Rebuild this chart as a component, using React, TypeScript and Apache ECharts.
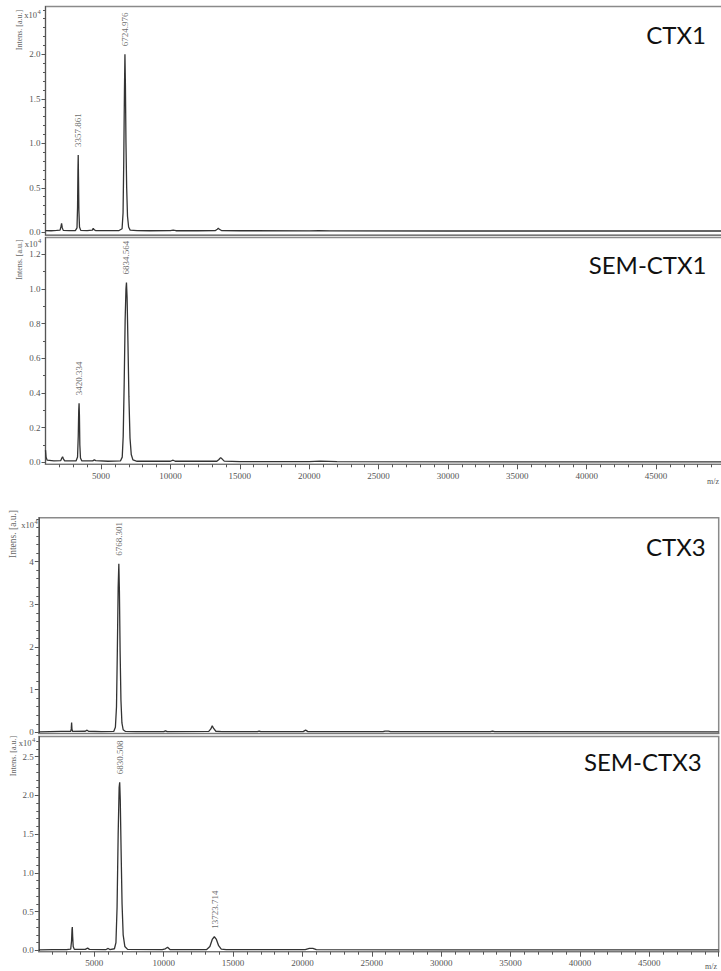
import React, { useEffect, useRef } from "react";
import * as echarts from "echarts";

// ---------- data (intensities in units of 10^4 a.u., x in m/z) ----------
const panelTitles = ["CTX1", "SEM-CTX1", "CTX3", "SEM-CTX3"];

const ctx1Spectrum: [number, number][] = [
  [1000, 0.02], [1400, 0.018], [1800, 0.022], [2050, 0.025], [2110, 0.06], [2160, 0.1], [2210, 0.05],
  [2280, 0.022], [2700, 0.02], [3150, 0.02], [3270, 0.05], [3310, 0.28], [3338, 0.7], [3358, 0.87],
  [3378, 0.62], [3405, 0.25], [3450, 0.06], [3540, 0.022], [4000, 0.02], [4380, 0.025], [4440, 0.045],
  [4500, 0.03], [4600, 0.02], [5400, 0.02], [6300, 0.02], [6520, 0.04], [6590, 0.22], [6640, 0.8],
  [6690, 1.6], [6725, 2.0], [6760, 1.65], [6800, 1.0], [6850, 0.5], [6910, 0.18], [6990, 0.06],
  [7100, 0.025], [7600, 0.02], [8500, 0.018], [10000, 0.02], [10200, 0.025], [10400, 0.018],
  [12000, 0.018], [13250, 0.02], [13380, 0.035], [13455, 0.045], [13530, 0.035], [13680, 0.02],
  [15000, 0.018], [20000, 0.016], [20700, 0.02], [21500, 0.016], [30000, 0.015], [40000, 0.015],
  [50000, 0.015],
];

const semCtx1Spectrum: [number, number][] = [
  [1000, 0.07], [1040, 0.03], [1120, 0.012], [1600, 0.008], [2100, 0.01], [2180, 0.025], [2230, 0.032],
  [2290, 0.02], [2380, 0.008], [3200, 0.008], [3310, 0.03], [3360, 0.15], [3395, 0.3], [3420, 0.34],
  [3445, 0.27], [3475, 0.1], [3520, 0.025], [3620, 0.008], [4400, 0.008], [4520, 0.014], [4620, 0.01],
  [5500, 0.006], [6400, 0.008], [6530, 0.03], [6600, 0.15], [6670, 0.45], [6740, 0.82], [6800, 1.0],
  [6835, 1.037], [6880, 0.95], [6940, 0.7], [7010, 0.38], [7090, 0.14], [7180, 0.045], [7300, 0.014],
  [7600, 0.006], [10000, 0.006], [10200, 0.012], [10350, 0.006], [13350, 0.006], [13500, 0.016],
  [13620, 0.027], [13720, 0.02], [13880, 0.007], [15000, 0.004], [20000, 0.004], [20800, 0.007],
  [22000, 0.004], [35000, 0.003], [50000, 0.003],
];

const ctx3Spectrum: [number, number][] = [
  [1000, 0.01], [1800, 0.015], [2600, 0.02], [3300, 0.02], [3340, 0.08], [3365, 0.23], [3390, 0.07],
  [3440, 0.02], [4350, 0.025], [4480, 0.05], [4580, 0.025], [5500, 0.015], [6400, 0.02], [6520, 0.12],
  [6600, 0.6], [6660, 1.9], [6720, 3.4], [6768, 3.95], [6810, 3.3], [6860, 1.9], [6920, 0.75],
  [6990, 0.22], [7080, 0.06], [7250, 0.02], [8000, 0.015], [10000, 0.015], [10130, 0.035],
  [10260, 0.015], [13250, 0.02], [13400, 0.08], [13500, 0.155], [13600, 0.09], [13760, 0.025],
  [14200, 0.015], [16750, 0.015], [16880, 0.03], [17000, 0.015], [20050, 0.015], [20230, 0.05],
  [20400, 0.015], [25800, 0.015], [25950, 0.03], [26200, 0.03], [26350, 0.015], [33550, 0.015],
  [33700, 0.03], [33850, 0.015], [50000, 0.012],
];

const semCtx3Spectrum: [number, number][] = [
  [1000, 0.005], [2000, 0.008], [3000, 0.01], [3300, 0.015], [3360, 0.12], [3395, 0.27], [3415, 0.3],
  [3440, 0.18], [3480, 0.05], [3560, 0.012], [4350, 0.012], [4520, 0.028], [4650, 0.012], [5850, 0.01],
  [6000, 0.024], [6120, 0.01], [6450, 0.02], [6560, 0.1], [6640, 0.55], [6720, 1.5], [6790, 2.1],
  [6830, 2.17], [6870, 1.95], [6930, 1.3], [7000, 0.6], [7080, 0.2], [7200, 0.05], [7400, 0.012],
  [9900, 0.008], [10120, 0.02], [10280, 0.04], [10450, 0.01], [13100, 0.01], [13330, 0.05],
  [13500, 0.14], [13650, 0.175], [13800, 0.14], [13960, 0.06], [14150, 0.015], [14500, 0.008],
  [20200, 0.008], [20500, 0.025], [20750, 0.025], [21000, 0.008], [30000, 0.005], [50000, 0.005],
];

const ctx1Peaks = [
  { label: "3357.861", mz: 3357.861, intensity: 0.87 },
  { label: "6724.976", mz: 6724.976, intensity: 2.0 },
];
const semCtx1Peaks = [
  { label: "3420.334", mz: 3420.334, intensity: 0.34 },
  { label: "6834.564", mz: 6834.564, intensity: 1.037 },
];
const ctx3Peaks = [{ label: "6768.301", mz: 6768.301, intensity: 3.95 }];
const semCtx3Peaks = [
  { label: "6830.508", mz: 6830.508, intensity: 2.17 },
  { label: "13723.714", mz: 13723.714, intensity: 0.175 },
];

const yMajor1 = [0, 0.5, 1.0, 1.5, 2.0];
const yMajor2 = [0, 0.2, 0.4, 0.6, 0.8, 1.0, 1.2];
const yMajor3 = [0, 1, 2, 3, 4];
const yMajor4 = [0, 0.5, 1.0, 1.5, 2.0, 2.5];
const xMajor = [5000, 10000, 15000, 20000, 25000, 30000, 35000, 40000, 45000];

// ---------- helpers ----------
function minorTicks(start: number, end: number, step: number, skip: number[]) {
  const out: number[] = [];
  const n = Math.round((end - start) / step);
  for (let i = 0; i <= n; i++) {
    const v = +(start + i * step).toFixed(4);
    if (!skip.some((s) => Math.abs(s - v) < 1e-6)) out.push(v);
  }
  return out;
}

const SERIF = "'Liberation Serif', 'Times New Roman', serif";
const AXIS_COLOR = "#555";
const LABEL_COLOR = "#555";

const panels = [
  { data: ctx1Spectrum, peaks: ctx1Peaks, major: yMajor1, minor: minorTicks(0, 2.5, 0.1, yMajor1), fmt: (v: number) => v.toFixed(1), showX: false,
    left: 45.5, top: 6.5, height: 228.5, min: -0.03, max: 2.537 },
  { data: semCtx1Spectrum, peaks: semCtx1Peaks, major: yMajor2, minor: minorTicks(0, 1.2, 0.1, yMajor2), fmt: (v: number) => v.toFixed(1), showX: true,
    left: 45.5, top: 237.5, height: 226.8, min: -0.0115, max: 1.296 },
  { data: ctx3Spectrum, peaks: ctx3Peaks, major: yMajor3, minor: minorTicks(0, 5.0, 0.2, yMajor3), fmt: (v: number) => String(Math.round(v)), showX: false,
    left: 38.8, top: 517.7, height: 215.8, min: -0.028, max: 5.03 },
  { data: semCtx3Spectrum, peaks: semCtx3Peaks, major: yMajor4, minor: minorTicks(0, 2.7, 0.1, yMajor4), fmt: (v: number) => v.toFixed(1), showX: true,
    left: 38.8, top: 736.5, height: 215.2, min: -0.018, max: 2.76 },
];

const xMinor = minorTicks(2000, 50000, 1000, xMajor);

function buildOption() {
  const grid: any[] = [];
  const xAxis: any[] = [];
  const yAxis: any[] = [];
  const series: any[] = [];

  panels.forEach((p, i) => {
    grid.push({
      left: p.left, top: p.top, width: 679.9, height: p.height,
      show: true, borderColor: "#8a8a8a", borderWidth: 1.5, backgroundColor: "transparent",
      containLabel: false, outerBoundsMode: "none",
    });
    xAxis.push({
      type: "value", gridIndex: i, min: 1000, max: 50000, position: "bottom",
      axisLine: { show: true, onZero: false, lineStyle: { color: "#777", width: 1.2 } },
      axisTick: { show: p.showX, customValues: [...xMajor, 50000], length: 5, lineStyle: { color: AXIS_COLOR } },
      axisLabel: { show: p.showX, customValues: xMajor, formatter: (v: number) => String(v), margin: 7,
        color: LABEL_COLOR, fontFamily: SERIF, fontSize: 9 },
      splitLine: { show: false },
    });
    xAxis.push({
      type: "value", gridIndex: i, min: 1000, max: 50000, position: "bottom", offset: 0,
      axisLine: { show: false, onZero: false },
      axisTick: { show: p.showX, customValues: xMinor, length: 3, lineStyle: { color: AXIS_COLOR } },
      axisLabel: { show: false },
      splitLine: { show: false },
    });
    yAxis.push({
      type: "value", gridIndex: i, min: p.min, max: p.max, position: "left",
      axisLine: { show: true, onZero: false, lineStyle: { color: AXIS_COLOR, width: 1 } },
      axisTick: { show: true, customValues: p.major, length: 4, lineStyle: { color: AXIS_COLOR } },
      axisLabel: { show: true, customValues: p.major, formatter: p.fmt, margin: 5,
        color: LABEL_COLOR, fontFamily: SERIF, fontSize: 9 },
      splitLine: { show: false },
    });
    yAxis.push({
      type: "value", gridIndex: i, min: p.min, max: p.max, position: "left", offset: 0,
      axisLine: { show: false, onZero: false },
      axisTick: { show: true, customValues: p.minor, length: 2.5, lineStyle: { color: AXIS_COLOR } },
      axisLabel: { show: false },
      splitLine: { show: false },
    });
    series.push({
      type: "line", xAxisIndex: 2 * i, yAxisIndex: 2 * i, data: p.data,
      showSymbol: false, symbol: "none", smooth: false, clip: true,
      lineStyle: { color: "#333", width: 1.3 },
    });
    series.push({
      type: "scatter", xAxisIndex: 2 * i, yAxisIndex: 2 * i,
      symbolSize: 0,
      data: p.peaks.map((pk) => ({ name: pk.label, value: [pk.mz, pk.intensity] })),
      label: {
        show: true, position: "top", distance: 8, rotate: 90, align: "left", verticalAlign: "middle",
        formatter: (d: any) => d.name, color: "#444", fontFamily: SERIF, fontSize: 9,
      },
    });
  });

  const intens = (x: number, y: number, size: number) => ({
    type: "text", x, y, rotation: Math.PI / 2, silent: true,
    style: { text: "Intens. [a.u.]", x: 0, y: 0, textAlign: "center", textVerticalAlign: "middle",
      fontFamily: SERIF, fontSize: size, fill: "#666" },
  });
  const x10 = (x: number, y: number) => [
    { type: "text", x, y, silent: true,
      style: { text: "x10", textAlign: "right", textVerticalAlign: "middle", fontFamily: SERIF, fontSize: 8.5, fill: "#555" } },
    { type: "text", x: x + 0.5, y: y - 3.5, silent: true,
      style: { text: "4", textAlign: "left", textVerticalAlign: "middle", fontFamily: SERIF, fontSize: 6.5, fill: "#555" } },
  ];
  const title = (text: string, x: number, y: number) => ({
    type: "text", x, y, silent: true,
    style: { text, textAlign: "right", textVerticalAlign: "middle", fontFamily: "Lato, 'Open Sans', sans-serif",
      fontSize: 24, fill: "#111" },
  });
  const mz = (x: number, y: number) => ({
    type: "text", x, y, silent: true,
    style: { text: "m/z", textAlign: "right", textVerticalAlign: "middle", fontFamily: SERIF, fontSize: 8, fill: "#555" },
  });

  const graphic: any[] = [
    intens(19, 30, 8), intens(19, 259.5, 8), intens(12.5, 534, 9.5), intens(13.5, 756, 8),
    ...x10(37, 15), ...x10(37.5, 243.5), ...x10(34, 524.5), ...x10(31.5, 743),
    title(panelTitles[0], 706, 34.5), title(panelTitles[1], 706.5, 264.3),
    title(panelTitles[2], 705.7, 546.3), title(panelTitles[3], 701.7, 761),
    mz(719, 481.5), mz(717, 966.5),
  ];

  return {
    animation: false,
    backgroundColor: "#ffffff",
    grid, xAxis, yAxis, series, graphic,
  };
}

export default function App() {
  const ref = useRef<HTMLDivElement>(null);
  useEffect(() => {
    if (!ref.current) return;
    const chart = echarts.init(ref.current, null, { renderer: "svg" });
    chart.setOption(buildOption() as any);
    return () => chart.dispose();
  }, []);
  return (
    <div
      ref={ref}
      style={{ position: "absolute", left: 0, top: 0, width: 721, height: 971, background: "#fff" }}
    />
  );
}
